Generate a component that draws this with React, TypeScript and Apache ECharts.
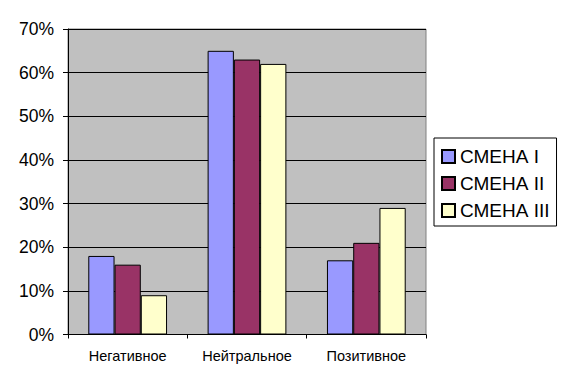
import React, { useEffect, useRef } from "react";
import * as echarts from "echarts";

const categories = ["Негативное", "Нейтральное", "Позитивное"];
const seriesNames = ["СМЕНА I", "СМЕНА II", "СМЕНА III"];
const smena1 = [18, 65, 17];
const smena2 = [16, 63, 21];
const smena3 = [9, 62, 29];
const colors = ["#9999FF", "#993366", "#FFFFCC"];

const FONT = "'Liberation Sans', Arial, sans-serif";

export default function App() {
  const ref = useRef<HTMLDivElement>(null);
  useEffect(() => {
    if (!ref.current) return;
    const chart = echarts.init(ref.current, undefined, { renderer: "svg" });
    const values = [smena1, smena2, smena3];
    chart.setOption({
      animation: false,
      backgroundColor: "#FFFFFF",
      grid: {
        left: 68,
        top: 29,
        right: 141,
        bottom: 47.5,
        show: true,
        backgroundColor: "#C0C0C0",
        borderColor: "#808080",
        borderWidth: 1,
      },
      legend: {
        orient: "vertical",
        left: 434,
        top: 138,
        backgroundColor: "#FFFFFF",
        borderColor: "#000000",
        borderWidth: 1,
        padding: [9, 7, 6, 7],
        itemWidth: 13,
        itemHeight: 13,
        itemGap: 8,
        icon: "rect",
        textStyle: { fontFamily: FONT, fontSize: 19, color: "#000" },
        data: seriesNames,
      },
      xAxis: {
        type: "category",
        data: categories,
        axisLine: { show: true, lineStyle: { color: "#000", width: 1 } },
        axisTick: { show: true, length: 4, lineStyle: { color: "#000" } },
        axisLabel: { fontFamily: FONT, fontSize: 14.5, color: "#000", margin: 14 },
      },
      yAxis: {
        type: "value",
        min: 0,
        max: 70,
        interval: 10,
        axisLine: { show: true, lineStyle: { color: "#000", width: 1 } },
        axisTick: { show: true, length: 5, lineStyle: { color: "#000" } },
        axisLabel: {
          fontFamily: FONT,
          fontSize: 17.5,
          color: "#000",
          margin: 14,
          formatter: "{value}%",
        },
        splitLine: { show: true, lineStyle: { color: "#000", width: 1 } },
      },
      series: seriesNames.map((name, i) => ({
        name,
        type: "bar",
        data: values[i],
        barGap: "0%",
        barCategoryGap: "34%",
        itemStyle: { color: colors[i], borderColor: "#000", borderWidth: 1 },
      })),
    });
    return () => chart.dispose();
  }, []);
  return <div ref={ref} style={{ width: 567, height: 382, position: "absolute", left: 0, top: 0 }} />;
}
